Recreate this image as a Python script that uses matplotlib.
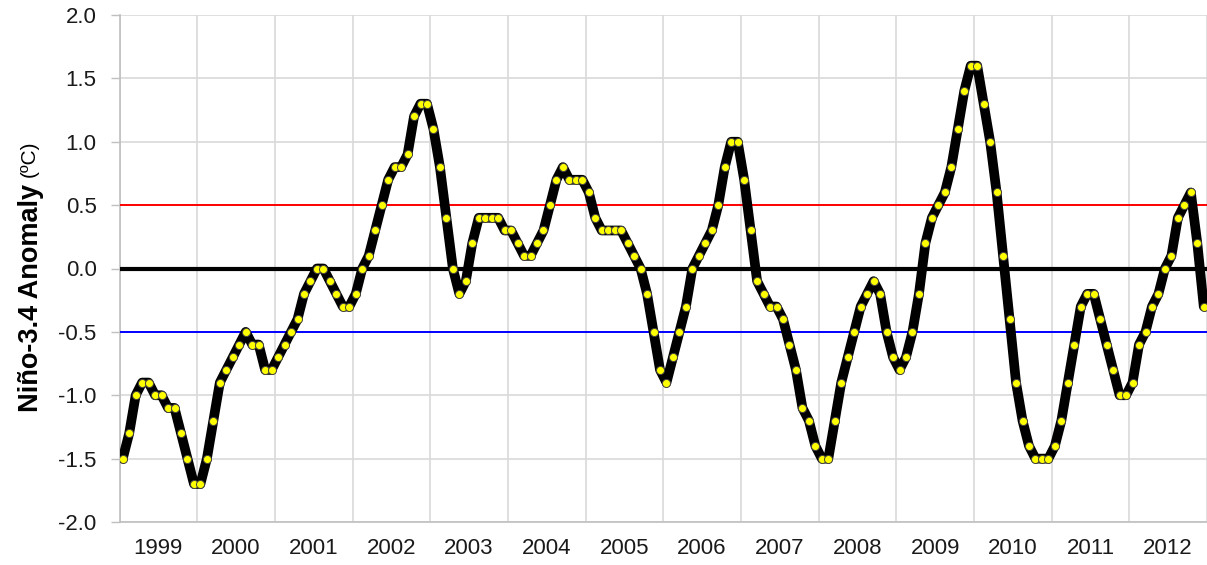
import matplotlib
matplotlib.use('Agg')
import matplotlib.pyplot as plt
import numpy as np

# Monthly Nino-3.4 anomaly (C), Jan..Dec of each year
oni_1999 = [-1.5, -1.3, -1.0, -0.9, -0.9, -1.0, -1.0, -1.1, -1.1, -1.3, -1.5, -1.7]
oni_2000 = [-1.7, -1.5, -1.2, -0.9, -0.8, -0.7, -0.6, -0.5, -0.6, -0.6, -0.8, -0.8]
oni_2001 = [-0.7, -0.6, -0.5, -0.4, -0.2, -0.1, 0.0, 0.0, -0.1, -0.2, -0.3, -0.3]
oni_2002 = [-0.2, 0.0, 0.1, 0.3, 0.5, 0.7, 0.8, 0.8, 0.9, 1.2, 1.3, 1.3]
oni_2003 = [1.1, 0.8, 0.4, 0.0, -0.2, -0.1, 0.2, 0.4, 0.4, 0.4, 0.4, 0.3]
oni_2004 = [0.3, 0.2, 0.1, 0.1, 0.2, 0.3, 0.5, 0.7, 0.8, 0.7, 0.7, 0.7]
oni_2005 = [0.6, 0.4, 0.3, 0.3, 0.3, 0.3, 0.2, 0.1, 0.0, -0.2, -0.5, -0.8]
oni_2006 = [-0.9, -0.7, -0.5, -0.3, 0.0, 0.1, 0.2, 0.3, 0.5, 0.8, 1.0, 1.0]
oni_2007 = [0.7, 0.3, -0.1, -0.2, -0.3, -0.3, -0.4, -0.6, -0.8, -1.1, -1.2, -1.4]
oni_2008 = [-1.5, -1.5, -1.2, -0.9, -0.7, -0.5, -0.3, -0.2, -0.1, -0.2, -0.5, -0.7]
oni_2009 = [-0.8, -0.7, -0.5, -0.2, 0.2, 0.4, 0.5, 0.6, 0.8, 1.1, 1.4, 1.6]
oni_2010 = [1.6, 1.3, 1.0, 0.6, 0.1, -0.4, -0.9, -1.2, -1.4, -1.5, -1.5, -1.5]
oni_2011 = [-1.4, -1.2, -0.9, -0.6, -0.3, -0.2, -0.2, -0.4, -0.6, -0.8, -1.0, -1.0]
oni_2012 = [-0.9, -0.6, -0.5, -0.3, -0.2, 0.0, 0.1, 0.4, 0.5, 0.6, 0.2, -0.3]

years = ['1999', '2000', '2001', '2002', '2003', '2004', '2005',
         '2006', '2007', '2008', '2009', '2010', '2011', '2012']
el_nino_level = 0.5
la_nina_level = -0.5
y_ticks = [-2.0, -1.5, -1.0, -0.5, 0.0, 0.5, 1.0, 1.5, 2.0]

oni = (oni_1999 + oni_2000 + oni_2001 + oni_2002 + oni_2003 + oni_2004 + oni_2005
       + oni_2006 + oni_2007 + oni_2008 + oni_2009 + oni_2010 + oni_2011 + oni_2012)
months = np.arange(len(oni))

plt.rcParams['font.family'] = ['Liberation Sans', 'DejaVu Sans']

fig = plt.figure(figsize=(12.07, 5.65), dpi=100)
ax = fig.add_axes([119.5 / 1207, 43 / 565, 1 - 119.5 / 1207, 507 / 565])

grid_color = '#d9d9d9'
axis_color = '#bfbfbf'

# reference lines
ax.axhline(0.0, color='black', lw=3, zorder=3)
ax.axhline(el_nino_level, color='#ff0000', lw=1.4, zorder=3)
ax.axhline(la_nina_level, color='#0000ff', lw=1.4, zorder=3)

# main series
ax.plot(months, oni, color='black', lw=7, solid_joinstyle='round',
        solid_capstyle='round', zorder=4)
ax.plot(months, oni, ls='none', marker='o', ms=5.8, mfc='#ffff00',
        mec='#404040', mew=0.7, zorder=5)

ax.set_ylim(-2.0, 2.0)
ax.set_xlim(-0.5, 166.9)

ax.set_yticks(y_ticks)
ax.set_yticklabels(['%.1f' % v for v in y_ticks])

# gridlines between years, labels centred in each year
ax.set_xticks(np.arange(-0.5, len(oni) + 1, 12))
ax.set_xticklabels([])
ax.set_xticks(np.arange(5.5, len(oni), 12), minor=True)
ax.set_xticklabels(years, minor=True)

ax.grid(True, axis='y', color=grid_color, lw=1.2, zorder=0)
ax.grid(True, axis='x', which='major', color=grid_color, lw=1.2, zorder=0)
ax.set_axisbelow(True)

ax.tick_params(axis='x', which='both', length=0, pad=11.5, labelsize=16,
               labelcolor='#1a1a1a')
ax.tick_params(axis='y', length=6.5, width=1, color=axis_color, pad=10,
               labelsize=16, labelcolor='#1a1a1a')

for side in ['top', 'right']:
    ax.spines[side].set_visible(False)
for side in ['left', 'bottom']:
    ax.spines[side].set_color(axis_color)
    ax.spines[side].set_linewidth(1.2)

# y label: bold part plus smaller unit
fig.text(31 / 1207, 1 - 412 / 565, 'Niño-3.4 Anomaly', rotation=90,
         ha='center', va='bottom', fontsize=19.5, fontweight='bold', color='black')
fig.text(29 / 1207, 1 - 177 / 565, '(ºC)', rotation=90,
         ha='center', va='bottom', fontsize=15, color='black')

fig.savefig('out.png', dpi=100)
